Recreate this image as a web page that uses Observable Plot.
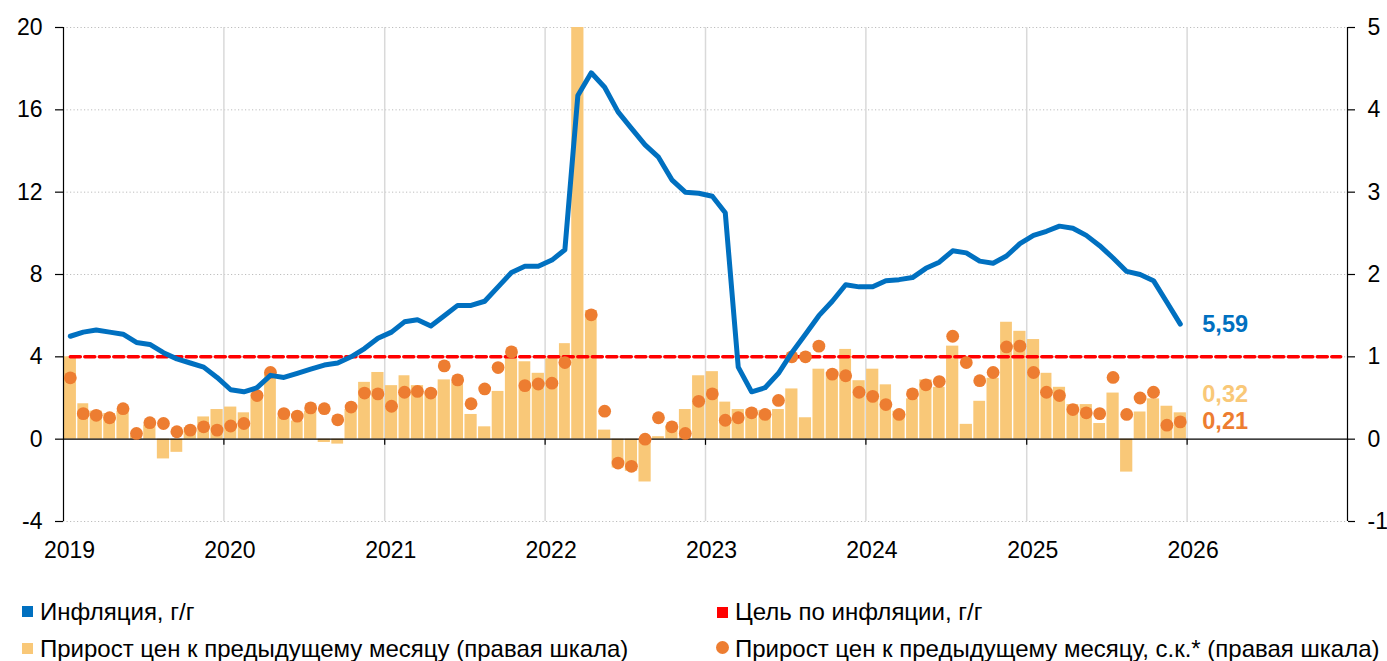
<!DOCTYPE html>
<html><head><meta charset="utf-8">
<script src="https://cdn.jsdelivr.net/npm/d3@7"></script>
<script src="https://cdn.jsdelivr.net/npm/@observablehq/plot@0.6"></script>
<style>
body{margin:0;background:#fff;font-family:"Liberation Sans",Arial,sans-serif;}
#wrap{position:relative;width:1387px;height:661px;overflow:hidden;}
.lg{position:absolute;font-size:24px;color:#000;white-space:nowrap;line-height:24px;}
.mk{position:absolute;display:block;}
</style></head><body><div id="wrap"></div>
<script>
// Monthly data, Jan 2019 – Dec 2025
const inflationYoY = [
  5.0, 5.2, 5.3, 5.2, 5.1, 4.7, 4.6, 4.2, 3.9, 3.7, 3.5, 3.0,
  2.4, 2.3, 2.5, 3.1, 3.0, 3.2, 3.4, 3.6, 3.7, 4.0, 4.4, 4.9,
  5.2, 5.7, 5.8, 5.5, 6.0, 6.5, 6.5, 6.7, 7.4, 8.1, 8.4, 8.4,
  8.7, 9.2, 16.7, 17.8, 17.1, 15.9, 15.1, 14.3, 13.7, 12.6, 12.0, 11.95,
  11.8, 11.0, 3.5, 2.3, 2.5, 3.2, 4.2, 5.1, 6.0, 6.7, 7.5, 7.4,
  7.4, 7.7, 7.75, 7.85, 8.3, 8.6, 9.15, 9.05, 8.65, 8.55, 8.9, 9.5,
  9.9, 10.1, 10.35, 10.25, 9.9, 9.4, 8.8, 8.15, 8.0, 7.7, 6.65, 5.59
];
const momChange = [
  1.0, 0.43, 0.34, 0.31, 0.34, 0.04, 0.17, -0.24, -0.16, 0.14, 0.27, 0.36,
  0.39, 0.32, 0.55, 0.81, 0.27, 0.22, 0.34, -0.04, -0.06, 0.36, 0.69, 0.81,
  0.65, 0.77, 0.65, 0.57, 0.72, 0.69, 0.30, 0.15, 0.58, 1.02, 0.94, 0.80,
  0.98, 1.16, 7.61, 1.56, 0.11, -0.35, -0.39, -0.52, 0.03, 0.16, 0.36, 0.77,
  0.82, 0.45, 0.36, 0.36, 0.35, 0.36, 0.61, 0.26, 0.85, 0.81, 1.09, 0.71,
  0.85, 0.66, 0.34, 0.49, 0.72, 0.63, 1.13, 0.18, 0.46, 0.74, 1.42, 1.31,
  1.21, 0.80, 0.63, 0.42, 0.42, 0.19, 0.56, -0.40, 0.33, 0.49, 0.40, 0.32
];
const momSA = [
  0.745, 0.31, 0.29, 0.26, 0.37, 0.07, 0.20, 0.19, 0.09, 0.11, 0.15, 0.11,
  0.16, 0.19, 0.53, 0.81, 0.31, 0.28, 0.38, 0.37, 0.235, 0.39, 0.56, 0.55,
  0.40, 0.57, 0.58, 0.56, 0.89, 0.72, 0.43, 0.61, 0.87, 1.06, 0.65, 0.67,
  0.68, 0.93, null, 1.51, 0.34, -0.29, -0.33, 0.0, 0.26, 0.15, 0.07, 0.46,
  0.55, 0.23, 0.26, 0.32, 0.30, 0.47, 1.0, 1.0, 1.13, 0.79, 0.77, 0.57,
  0.52, 0.42, 0.30, 0.55, 0.66, 0.70, 1.25, 0.93, 0.71, 0.81, 1.12, 1.13,
  0.81, 0.57, 0.53, 0.36, 0.32, 0.31, 0.75, 0.30, 0.50, 0.57, 0.17, 0.21
];
const yearLabels = [2019, 2020, 2021, 2022, 2023, 2024, 2025, 2026];
const leftTicks = [-4, 0, 4, 8, 12, 16, 20];
const rightScaleFactor = 4; // right axis value × 4 = left axis value
const targetValue = 4;
const targetSpan = ["2019-01", "2026-12"];
const legendItems = [
  "Инфляция, г/г",
  "Цель по инфляции, г/г",
  "Прирост цен к предыдущему месяцу (правая шкала)",
  "Прирост цен к предыдущему месяцу, с.к.* (правая шкала)"
];

const C_LINE = "#0070c0", C_TARGET = "#ff0000", C_BAR = "#f9c878", C_DOT = "#ed7d31";

const utc = (y, m) => new Date(Date.UTC(y, m, 1));
const mid = (d) => new Date((+d + +d3.utcMonth.offset(d, 1)) / 2);
const parseMonth = (s) => utc(+s.slice(0, 4), +s.slice(5, 7) - 1);
const months = d3.utcMonths(utc(2019, 0), utc(2026, 0));
const rows = months.map((m, i) => ({
  start: m, end: d3.utcMonth.offset(m, 1), mid: mid(m),
  yoy: inflationYoY[i], mom: momChange[i], sa: momSA[i]
}));
const yearDates = yearLabels.map(y => utc(y, 0));
const innerYears = yearDates.slice(1);
const xStart = utc(2019, 0), xEnd = utc(2027, 0);
const target = targetSpan.map(s => ({x: mid(parseMonth(s)), y: targetValue}));
const last = rows[rows.length - 1];
const fmt = v => v.toFixed(2).replace(".", ",");

const plot = Plot.plot({
  width: 1387, height: 580,
  marginTop: 27, marginBottom: 59, marginLeft: 63, marginRight: 40,
  style: {fontFamily: '"Liberation Sans", Arial, sans-serif', fontSize: "23px", color: "#000", background: "#fff", overflow: "visible"},
  x: {type: "utc", domain: [xStart, xEnd], axis: null},
  y: {domain: [-4, 20], axis: null},
  marks: [
    Plot.ruleY(leftTicks.filter(d => d !== 0), {stroke: "#bdbdbd", strokeWidth: 1, strokeDasharray: "1.2,2.3"}),
    Plot.ruleX(innerYears, {stroke: "#d9d9d9", strokeWidth: 1.5}),
    Plot.rect(rows, {x1: "start", x2: "end", y1: 0, y2: d => d.mom * rightScaleFactor, fill: C_BAR, insetLeft: 0.7, insetRight: 0.7, clip: true}),
    Plot.ruleY([0], {stroke: "#000", strokeWidth: 1.2}),
    Plot.ruleX(innerYears, {y1: 0, y2: -0.3, stroke: "#000", strokeWidth: 1.2}),
    Plot.ruleX([xStart, xEnd], {y1: -4, y2: 20, stroke: "#000", strokeWidth: 1.2}),
    Plot.axisY({anchor: "left", ticks: leftTicks, tickSize: 8, tickPadding: 13, tickFormat: d => String(d), label: null, stroke: "#000", strokeWidth: 1.2, fontSize: 23}),
    Plot.axisY({anchor: "right", ticks: leftTicks, tickSize: 7, tickPadding: 13, tickFormat: d => String(d / rightScaleFactor), label: null, stroke: "#000", strokeWidth: 1.2, fontSize: 23}),
    Plot.text(yearDates, {x: d => d, frameAnchor: "bottom", dy: 36, dx: 6, text: d => String(d.getUTCFullYear()), fill: "#000", fontSize: 23}),
    Plot.line(target, {x: "x", y: "y", stroke: C_TARGET, strokeWidth: 3.5, strokeDasharray: "10,4.5"}),
    Plot.dot(rows.filter(d => d.sa != null), {x: "mid", y: d => d.sa * rightScaleFactor, r: 6.4, fill: C_DOT, clip: true}),
    Plot.line(rows, {x: "mid", y: "yoy", stroke: C_LINE, strokeWidth: 5, strokeLinejoin: "round", strokeLinecap: "round", clip: true}),
    Plot.text([last], {x: "mid", y: "yoy", text: d => fmt(d.yoy), dx: 22, textAnchor: "start", fill: C_LINE, fontWeight: "bold", fontSize: 23.5}),
    Plot.text([last], {x: "mid", y: d => d.mom * rightScaleFactor, text: d => fmt(d.mom), dx: 22, dy: -18, textAnchor: "start", fill: C_BAR, fontWeight: "bold", fontSize: 23.5}),
    Plot.text([last], {x: "mid", y: d => d.sa * rightScaleFactor, text: d => fmt(d.sa), dx: 22, textAnchor: "start", fill: C_DOT, fontWeight: "bold", fontSize: 23.5})
  ]
});

const wrap = document.getElementById("wrap");
plot.style.position = "absolute"; plot.style.left = "0"; plot.style.top = "0";
wrap.appendChild(plot);

const legendLayout = [
  {text: legendItems[0], x: 22, tx: 40, y: 611.5, top: 600, color: C_LINE, shape: "sq"},
  {text: legendItems[1], x: 717, tx: 735, y: 612, top: 600, color: C_TARGET, shape: "sq"},
  {text: legendItems[2], x: 22, tx: 40, y: 648.5, top: 637, color: C_BAR, shape: "sq"},
  {text: legendItems[3], x: 716, tx: 735, y: 647.5, top: 637, color: C_DOT, shape: "ci"}
];
for (const it of legendLayout) {
  const mk = document.createElement("span");
  mk.className = "mk";
  const s = it.shape === "sq" ? 11 : 13;
  mk.style.cssText = `left:${it.x}px;top:${it.y - s / 2}px;width:${s}px;height:${s}px;background:${it.color};` + (it.shape === "ci" ? "border-radius:50%;" : "");
  wrap.appendChild(mk);
  const t = document.createElement("div");
  t.className = "lg";
  t.textContent = it.text;
  t.style.left = it.tx + "px";
  t.style.top = it.top + "px";
  wrap.appendChild(t);
}
</script></body></html>
